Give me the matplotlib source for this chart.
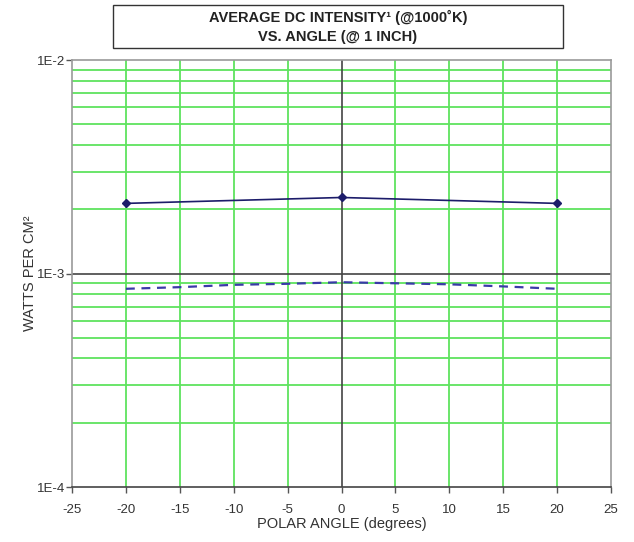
import matplotlib
matplotlib.use("Agg")
import matplotlib.pyplot as plt
from matplotlib.patches import Rectangle
from matplotlib.ticker import NullFormatter, FixedLocator

# Data
angle_measured = [-20, 0, 20]
intensity_measured = [2.13e-3, 2.27e-3, 2.13e-3]
angle_dashed = [-20, -15, -10, -5, 0, 5, 10, 15, 20]
intensity_dashed = [8.48e-4, 8.63e-4, 8.85e-4, 8.95e-4, 9.10e-4, 9.0e-4, 8.9e-4, 8.7e-4, 8.48e-4]
x_ticks = [-25, -20, -15, -10, -5, 0, 5, 10, 15, 20, 25]
y_ticks = [1e-4, 1e-3, 1e-2]
y_tick_labels = ["1E-4", "1E-3", "1E-2"]

plt.rcParams['font.family'] = ['Liberation Sans', 'DejaVu Sans']

fig = plt.figure(figsize=(6.34, 5.42), dpi=100)
ax = fig.add_axes([72/634, 1 - 487/542, (611-72)/634, (487-60)/542])

ax.set_yscale('log')
ax.set_xlim(-25, 25)
ax.set_ylim(1e-4, 1e-2)

green = '#5ee35e'
minor_y = [m * 10.0**e for e in (-4, -3) for m in range(2, 10)]
for yv in minor_y:
    ax.axhline(yv, color=green, lw=1.3, zorder=1)
for xv in x_ticks[1:-1]:
    if xv != 0:
        ax.axvline(xv, color=green, lw=1.3, zorder=1)
ax.axhline(1e-3, color='#444444', lw=1.2, zorder=2)
ax.axvline(0, color='#444444', lw=1.2, zorder=2)

ax.plot(angle_dashed, intensity_dashed, color='#3a3aa8', lw=1.6,
        linestyle=(0, (4, 3)), zorder=3)
ax.plot(angle_measured, intensity_measured, color='#1c1c6a', lw=1.2,
        marker='D', markersize=4.5, zorder=4)

ax.yaxis.set_major_locator(FixedLocator(y_ticks))
ax.set_yticklabels(y_tick_labels)
ax.yaxis.set_minor_locator(FixedLocator([]))
ax.yaxis.set_minor_formatter(NullFormatter())
ax.set_xticks(x_ticks)
ax.set_xticklabels([str(v) for v in x_ticks])

for s in ('top', 'right', 'left'):
    ax.spines[s].set_color('#9a9a9a')
    ax.spines[s].set_linewidth(1.2)
ax.spines['bottom'].set_color('#444444')
ax.spines['bottom'].set_linewidth(1.2)

ax.tick_params(axis='both', direction='out', length=4, width=1, colors='#555555',
               labelcolor='#333333', labelsize=9.5)
ax.tick_params(axis='x', pad=8)
ax.tick_params(axis='y', pad=1)

ax.set_xlabel('POLAR ANGLE (degrees)', fontsize=10.5, color='#333333')
ax.set_ylabel('WATTS PER CM\u00b2', fontsize=10.5, color='#333333')
ax.xaxis.set_label_coords(0.5, (487 - 524) / 427, transform=ax.transAxes)
ax.yaxis.set_label_coords((30 - 72) / 539, 0.5, transform=ax.transAxes)
ax.xaxis.label.set_va('center')
ax.yaxis.label.set_va('center')

fig.patches.append(Rectangle((113/634, 1 - 48/542), (563-113)/634, (48-5)/542,
                             transform=fig.transFigure, fill=False,
                             edgecolor='#333333', lw=1.0))
fig.text(338/634, 1 - 17/542, 'AVERAGE DC INTENSITY\u00b9 (@1000\u02daK)',
         ha='center', va='center', fontsize=10.5, fontweight='bold', color='#222222')
fig.text(338/634, 1 - 37/542, 'VS. ANGLE (@ 1 INCH)',
         ha='center', va='center', fontsize=10.5, fontweight='bold', color='#222222')

fig.savefig('out.png', dpi=100)
